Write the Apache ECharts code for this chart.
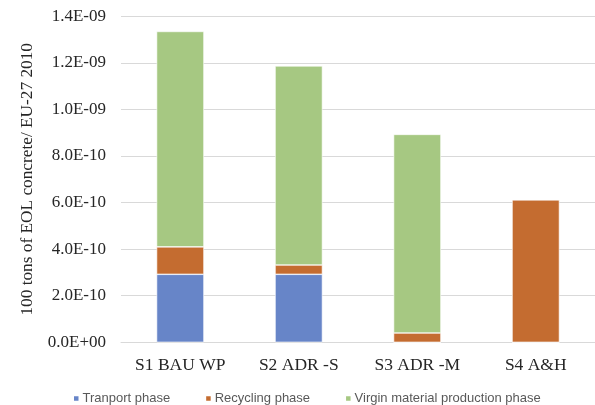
<!DOCTYPE html>
<html>
<head>
<meta charset="utf-8">
<script src="https://cdn.jsdelivr.net/npm/echarts@6/dist/echarts.min.js"></script>
<style>html,body{margin:0;padding:0;background:#fff}#c{width:595px;height:405px}</style>
</head>
<body>
<div id="c"></div>
<script>
const categories = ['S1 BAU WP', 'S2 ADR -S', 'S3 ADR -M', 'S4 A&H'];
const transport = [2.92e-10, 2.92e-10, 0, 0];
const recycling = [1.18e-10, 0.40e-10, 0.40e-10, 6.12e-10];
const virgin = [9.25e-10, 8.55e-10, 8.53e-10, 0];
const seriesNames = ['Tranport phase', 'Recycling phase', 'Virgin material production phase'];
const colors = ['#6785C8', '#C46C30', '#A6C882'];

function fmt(v) {
  if (v === 0) return '0.0E+00';
  const s = v.toExponential(1).split('e');
  let e = parseInt(s[1], 10);
  const sign = e < 0 ? '-' : '+';
  e = Math.abs(e);
  return s[0] + 'E' + sign + (e < 10 ? '0' + e : '' + e);
}

const chart = echarts.init(document.getElementById('c'));
const dataSets = [transport, recycling, virgin];
chart.setOption({
  animation: false,
  color: colors,
  grid: { left: 121, right: 0, top: 16.3, bottom: 62.7, containLabel: false },
  legend: {
    left: 72, top: 392, padding: 0,
    icon: 'rect', itemWidth: 6.5, itemHeight: 6.5, itemGap: 34,
    textStyle: { fontFamily: 'Liberation Sans', fontSize: 13, color: '#595959', padding: [0, 0, 0, -2] },
    data: seriesNames
  },
  xAxis: {
    type: 'category', data: categories,
    axisTick: { show: false },
    axisLine: { lineStyle: { color: '#D9D9D9', width: 1 } },
    axisLabel: { fontFamily: 'Liberation Serif', fontSize: 17.5, color: '#262626', margin: 14 }
  },
  yAxis: {
    type: 'value', min: 0, max: 1.4e-9, interval: 2e-10,
    name: '100 tons of EOL concrete/ EU-27 2010',
    nameLocation: 'middle', nameGap: 85,
    nameTextStyle: { fontFamily: 'Liberation Serif', fontSize: 17.3, color: '#262626' },
    axisLine: { show: false }, axisTick: { show: false },
    splitLine: { lineStyle: { color: '#D9D9D9', width: 1 } },
    axisLabel: { fontFamily: 'Liberation Serif', fontSize: 17, color: '#262626', margin: 15, formatter: fmt }
  },
  series: dataSets.map((d, i) => ({
    name: seriesNames[i], type: 'bar', stack: 'total', barWidth: '40%',
    itemStyle: { borderColor: '#ffffff', borderWidth: 0.6 },
    data: d
  }))
});
</script>
</body>
</html>
